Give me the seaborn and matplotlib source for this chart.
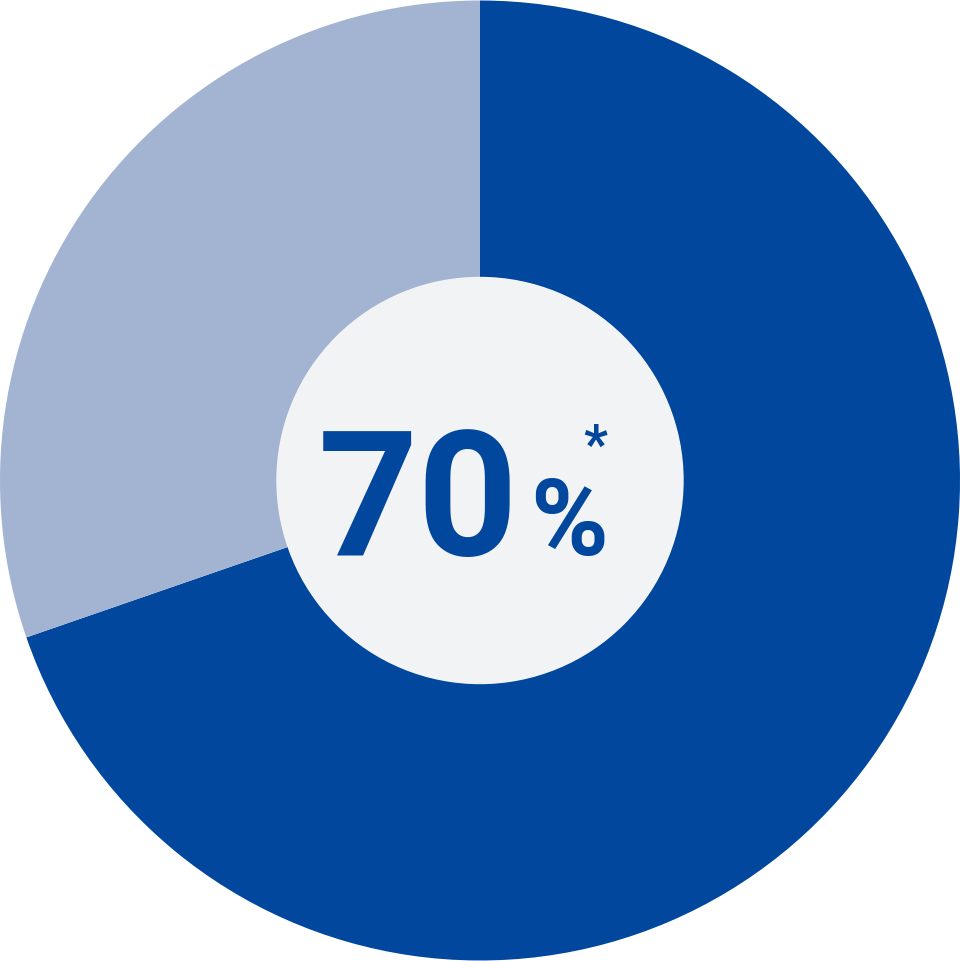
import matplotlib.pyplot as plt
from matplotlib.patches import Circle
import seaborn as sns

labels = ["Yes", "No"]
shares = [69.7, 30.3]
colors = ["#00479D", "#A3B4D2"]
headline = "70"

sns.set_theme(style="white")
plt.rcParams['font.family'] = ['Roboto', 'DejaVu Sans']

fig = plt.figure(figsize=(9.6, 9.61), dpi=100)
ax = fig.add_axes([0, 0, 1, 1])

inner = 203 / 480
ax.pie(shares, colors=colors, startangle=90, counterclock=False, radius=1,
       wedgeprops=dict(width=1 - inner, linewidth=0))
ax.add_patch(Circle((0, 0), inner, color="#F2F3F5", zorder=3))

blue = "#00479D"
ax.text(0.08, -0.156, headline, ha="right", va="baseline", fontsize=126,
        fontweight="bold", color=blue, zorder=4)
ax.text(0.105, -0.156, "%", ha="left", va="baseline", fontsize=76,
        fontweight="bold", color=blue, zorder=4)
ax.text(0.24, 0.07, "*", ha="center", va="center", fontsize=38,
        fontweight="bold", color=blue, zorder=4)

ax.set_xlim(-1, 1)
ax.set_ylim(-1.001, 1.001)
ax.set_aspect("equal")
ax.axis("off")

fig.savefig("out.png", dpi=100, facecolor="white")
plt.close(fig)
